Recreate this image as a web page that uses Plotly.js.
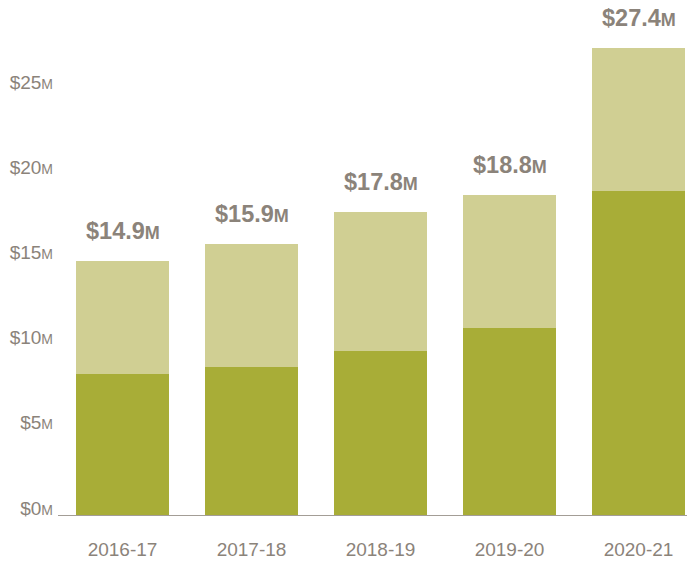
<!DOCTYPE html>
<html>
<head>
<meta charset="utf-8">
<script src="https://cdn.plot.ly/plotly-3.0.1.min.js"></script>
<style>html,body{margin:0;padding:0;background:#fff;}#chart{width:687px;height:561px;}</style>
</head>
<body>
<div id="chart"></div>
<script>
const years = ["2016-17", "2017-18", "2018-19", "2019-20", "2020-21"];
const totals = [14.9, 15.9, 17.8, 18.8, 27.4];
const darkPart = [8.3, 8.7, 9.6, 11.0, 19.0];
const lightPart = [6.6, 7.2, 8.2, 7.8, 8.4];
const yTickVals = [0, 5, 10, 15, 20, 25];
const yTickText = ["$0", "$5", "$10", "$15", "$20", "$25"];

const grey = "#8b837a";
const smallM = "<span style='font-size:14px'>M</span>";
const smallMBold = "<span style='font-size:18px'>M</span>";

const traces = [
  {type: "bar", x: years, y: darkPart, marker: {color: "#a8ad37"}, hoverinfo: "none"},
  {type: "bar", x: years, y: lightPart, marker: {color: "#d0cf93"}, hoverinfo: "none"}
];

const annotations = years.map((yr, i) => ({
  x: yr, y: totals[i], xref: "x", yref: "y",
  text: "<b>$" + totals[i].toFixed(1) + smallMBold + "</b>",
  showarrow: false, yanchor: "middle", yshift: 30,
  font: {family: "Liberation Sans, Arial, sans-serif", size: 23.5, color: grey}
}));

const layout = {
  width: 687, height: 561,
  margin: {l: 58, r: 0, t: 4, b: 46},
  paper_bgcolor: "#fff", plot_bgcolor: "#fff",
  barmode: "stack", bargap: 0.279, showlegend: false,
  font: {family: "Liberation Sans, Arial, sans-serif", color: grey, size: 19},
  xaxis: {
    range: [-0.5, 4.376], showgrid: false, zeroline: false,
    showline: true, linecolor: "#a39d96", linewidth: 1,
    ticks: "", tickfont: {size: 19, color: grey}, ticklabelstandoff: 17
  },
  yaxis: {
    range: [0, 30], showgrid: false, zeroline: false, showline: false,
    tickvals: yTickVals, ticktext: yTickText.map(t => t + smallM),
    ticks: "", tickfont: {size: 19, color: grey}, ticklabelshift: -7, ticklabelstandoff: 4
  },
  annotations: annotations
};

Plotly.newPlot("chart", traces, layout, {displayModeBar: false, staticPlot: true});
</script>
</body>
</html>
